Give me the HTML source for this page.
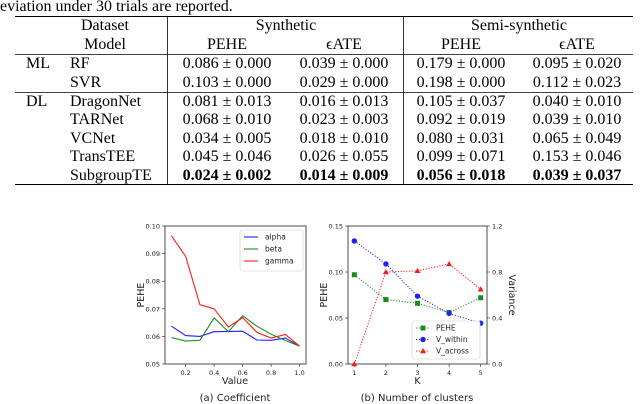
<!DOCTYPE html>
<html><head><meta charset="utf-8"><style>
body{margin:0;background:#fff;width:640px;height:404px;overflow:hidden}
svg{display:block}
.t{font-family:"Liberation Serif",serif;font-size:16px;fill:#000}
.b{font-weight:bold}
.c{font-family:"DejaVu Sans","Liberation Sans",sans-serif;fill:#222}
</style></head><body>
<svg id="root" width="640" height="404" xmlns="http://www.w3.org/2000/svg">
<g>
<text class="t" x="0" y="11">eviation under 30 trials are reported.</text>
<line x1="15" y1="16.5" x2="633" y2="16.5" stroke="#000" stroke-width="1"/>
<line x1="15" y1="54.5" x2="633" y2="54.5" stroke="#000" stroke-width="0.8"/>
<line x1="15" y1="92.5" x2="633" y2="92.5" stroke="#000" stroke-width="0.8"/>
<line x1="15" y1="184.5" x2="633" y2="184.5" stroke="#000" stroke-width="1"/>
<line x1="167.5" y1="16" x2="167.5" y2="185" stroke="#000" stroke-width="0.8"/>
<line x1="403.5" y1="16" x2="403.5" y2="185" stroke="#000" stroke-width="0.8"/>
<g id="tbl"></g>
</g>
<g id="chartA"></g>
<g id="chartB"></g>
</svg>
<script>
const NS="http://www.w3.org/2000/svg";
function mk(p,tag,a,txt){const e=document.createElementNS(NS,tag);for(const k in a)e.setAttribute(k,a[k]);if(txt!=null)e.textContent=txt;p.appendChild(e);return e;}
// Chart A data
const coefX=[0.1,0.2,0.3,0.4,0.5,0.6,0.7,0.8,0.9,1.0];
const alphaVals=[0.0637,0.0603,0.0600,0.0617,0.0618,0.0619,0.0587,0.0586,0.0594,0.0565];
const betaVals=[0.0596,0.0583,0.0586,0.0667,0.0617,0.0675,0.0637,0.0608,0.0585,0.0565];
const gammaVals=[0.0965,0.0890,0.0715,0.0700,0.0634,0.0668,0.0615,0.0594,0.0607,0.0565];
const aYTicks=["0.05","0.06","0.07","0.08","0.09","0.10"];
const aXTicks=["0.2","0.4","0.6","0.8","1.0"];
// Chart B data
const kVals=[1,2,3,4,5];
const pehePts=[0.097,0.070,0.066,0.056,0.072];
const vWithin=[1.07,0.87,0.59,0.44,0.355];
const vAcross=[0.0,0.80,0.81,0.87,0.65];
const bYTicks=["0.00","0.05","0.10","0.15"];
const bY2Ticks=["0.0","0.4","0.8","1.2"];
const bXTicks=["1","2","3","4","5"];
// table
const tbl=document.getElementById('tbl');
const rows=[["ML","RF","0.086 ± 0.000","0.039 ± 0.000","0.179 ± 0.000","0.095 ± 0.020"],
["","SVR","0.103 ± 0.000","0.029 ± 0.000","0.198 ± 0.000","0.112 ± 0.023"],
["DL","DragonNet","0.081 ± 0.013","0.016 ± 0.013","0.105 ± 0.037","0.040 ± 0.010"],
["","TARNet","0.068 ± 0.010","0.023 ± 0.003","0.092 ± 0.019","0.039 ± 0.010"],
["","VCNet","0.034 ± 0.005","0.018 ± 0.010","0.080 ± 0.031","0.065 ± 0.049"],
["","TransTEE","0.045 ± 0.046","0.026 ± 0.055","0.099 ± 0.071","0.153 ± 0.046"],
["","SubgroupTE","0.024 ± 0.002","0.014 ± 0.009","0.056 ± 0.018","0.039 ± 0.037"]];
const ys=[68,87,106,124,143,161,180];
const hdr=[["Dataset",105,30],["Model",105,49],["Synthetic",286,30],["Semi-synthetic",519,30],["PEHE",227,49],["ϵATE",344,49],["PEHE",461,49],["ϵATE",577,49]];
hdr.forEach(h=>{const e=mk(tbl,'text',{class:'t',x:h[1],y:h[2],'text-anchor':'middle'},h[0]);

});
const cx=[227,344,461,577];
rows.forEach((r,i)=>{const bold=i===6?' b':'';
if(r[0]){const e=mk(tbl,'text',{class:'t',x:26,y:ys[i]},r[0]);}
const m=mk(tbl,'text',{class:'t',x:70,y:ys[i]},r[1]);
for(let j=0;j<4;j++){const e=mk(tbl,'text',{class:'t'+bold,x:cx[j],y:ys[i],'text-anchor':'middle'},r[j+2]);
}
});
// chart A
(function(){
const g=document.getElementById('chartA');
const L=165,R=306,T=226,B=364;
const xs=v=>L+(v-0.055)/(1.045-0.055)*(R-L);
const ysA=v=>B-(v-0.05)/(0.05)*(B-T);
const ax=mk(g,'rect',{x:L,y:T,width:R-L,height:B-T,fill:'none',stroke:'#222','stroke-width':0.8});

aYTicks.forEach(t=>{const y=ysA(+t);mk(g,'line',{x1:L-3,x2:L,y1:y,y2:y,stroke:'#222','stroke-width':0.6});
const e=mk(g,'text',{class:'c',x:L-5,y:y+2.5,'font-size':6.5,'text-anchor':'end'},t);});
aXTicks.forEach(t=>{const x=xs(+t);mk(g,'line',{x1:x,x2:x,y1:B,y2:B+3,stroke:'#222','stroke-width':0.6});
const e=mk(g,'text',{class:'c',x:x,y:B+11,'font-size':6.5,'text-anchor':'middle'},t);});
const series=[[alphaVals,'#2020ff','alpha'],[betaVals,'#1a8c1a','beta'],[gammaVals,'#ff1a1a','gamma']];
series.forEach(s=>{const p=mk(g,'polyline',{points:coefX.map((x,i)=>xs(x)+','+ysA(s[0][i])).join(' '),fill:'none',stroke:s[1],'stroke-width':1.1});

});
const lg=mk(g,'g',{});
mk(lg,'rect',{x:240,y:230,width:63,height:41,fill:'#fff',stroke:'#ccc','stroke-width':0.6,rx:2});
series.forEach((s,i)=>{const y=237+i*12;mk(lg,'line',{x1:244,x2:258,y1:y,y2:y,stroke:s[1],'stroke-width':1.1});
const e=mk(lg,'text',{class:'c',x:265,y:y+2.5,'font-size':7.5},s[2]);});
let e=mk(g,'text',{class:'c',x:235,y:384,'font-size':9.5,'text-anchor':'middle'},'Value');
e=mk(g,'text',{class:'c',x:0,y:0,'font-size':9.5,'text-anchor':'middle',transform:`translate(144,${(T+B)/2}) rotate(-90)`},'PEHE');
e=mk(g,'text',{class:'c',x:235,y:401,'font-size':10,'text-anchor':'middle'},'(a) Coefficient');
})();
// chart B
(function(){
const g=document.getElementById('chartB');
const L=348,R=487,T=226,B=364;
const xs=v=>L+(v-0.8)/(5.2-0.8)*(R-L);
const y1=v=>B-v/0.15*(B-T);
const y2=v=>B-v/1.2*(B-T);
const ax=mk(g,'rect',{x:L,y:T,width:R-L,height:B-T,fill:'none',stroke:'#222','stroke-width':0.8});

bYTicks.forEach(t=>{const y=y1(+t);mk(g,'line',{x1:L-3,x2:L,y1:y,y2:y,stroke:'#222','stroke-width':0.6});
const e=mk(g,'text',{class:'c',x:L-5,y:y+2.5,'font-size':6.5,'text-anchor':'end'},t);});
bY2Ticks.forEach(t=>{const y=y2(+t);mk(g,'line',{x1:R,x2:R+3,y1:y,y2:y,stroke:'#222','stroke-width':0.6});
const e=mk(g,'text',{class:'c',x:R+5,y:y+2.5,'font-size':6.5},t);});
bXTicks.forEach(t=>{const x=xs(+t);mk(g,'line',{x1:x,x2:x,y1:B,y2:B+3,stroke:'#222','stroke-width':0.6});
const e=mk(g,'text',{class:'c',x:x,y:B+11,'font-size':6.5,'text-anchor':'middle'},t);});
const series=[[pehePts,y1,'#1a8c1a','PEHE','sq'],[vWithin,y2,'#2020ff','V_within','ci'],[vAcross,y2,'#ff1a1a','V_across','tr']];
function marker(p,x,y,kind,col){
 if(kind==='sq')return mk(p,'rect',{x:x-2.5,y:y-2.5,width:5,height:5,fill:col});
 if(kind==='ci')return mk(p,'circle',{cx:x,cy:y,r:2.7,fill:col});
 return mk(p,'polygon',{points:`${x},${y-3} ${x-3},${y+2.2} ${x+3},${y+2.2}`,fill:col});}
series.forEach(s=>{const p=mk(g,'polyline',{points:kVals.map((k,i)=>xs(k)+','+s[1](s[0][i])).join(' '),fill:'none',stroke:s[2],'stroke-width':1,'stroke-dasharray':'1.2,1.6'});

kVals.forEach((k,i)=>{const m=marker(g,xs(k),s[1](s[0][i]),s[4],s[2]);});});
const lg=mk(g,'g',{});
mk(lg,'rect',{x:412,y:321,width:68,height:38,fill:'#fff',stroke:'#ccc','stroke-width':0.6,rx:2});
series.forEach((s,i)=>{const y=328+i*11.5;mk(lg,'line',{x1:416,x2:430,y1:y,y2:y,stroke:s[2],'stroke-width':1,'stroke-dasharray':'1.2,1.6'});
marker(lg,423,y,s[4],s[2]);
const e=mk(lg,'text',{class:'c',x:436,y:y+2.5,'font-size':7.5},s[3]);});
let e=mk(g,'text',{class:'c',x:(L+R)/2,y:384,'font-size':9.5,'text-anchor':'middle'},'K');
e=mk(g,'text',{class:'c',x:0,y:0,'font-size':9.5,'text-anchor':'middle',transform:`translate(327,${(T+B)/2}) rotate(-90)`},'PEHE');
e=mk(g,'text',{class:'c',x:0,y:0,'font-size':9.5,'text-anchor':'middle',transform:`translate(509,${(T+B)/2}) rotate(90)`},'Variance');
e=mk(g,'text',{class:'c',x:417,y:401,'font-size':10,'text-anchor':'middle'},'(b) Number of clusters');
})();
</script>
</body></html>
